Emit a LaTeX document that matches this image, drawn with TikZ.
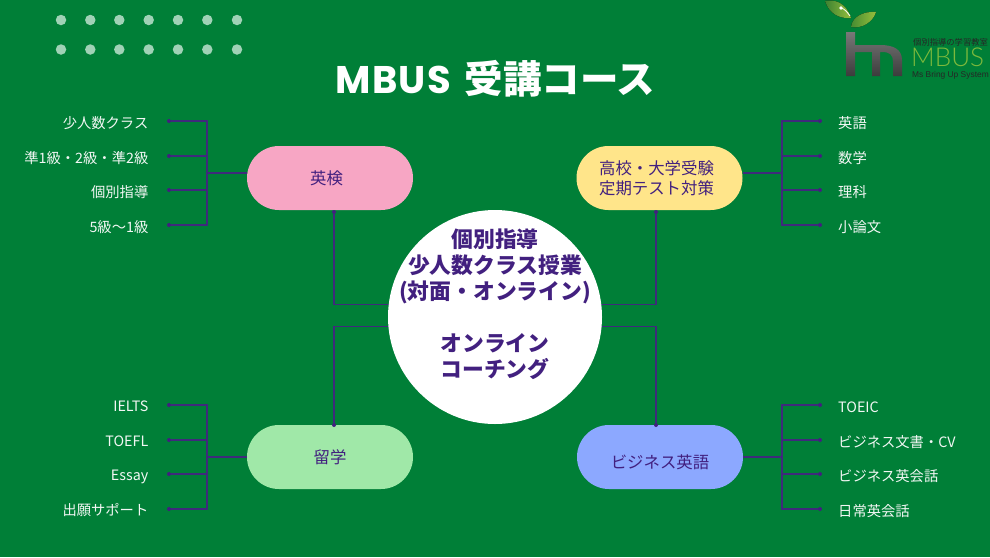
\documentclass[tikz,border=0pt]{standalone}
\usepackage{fontspec}
\setmainfont{Noto Sans CJK JP}
\newfontfamily\popfont[LetterSpace=3]{Poppins}
\newfontfamily\liberfont{Liberation Sans}
\newfontfamily\thinfont{Lato Light}
\usetikzlibrary{backgrounds}
\definecolor{bggreen}{HTML}{007F37}
\definecolor{ink}{HTML}{42207F}
\definecolor{linec}{HTML}{3F2A7C}
\definecolor{dotc}{HTML}{A0D2B6}
\definecolor{txtc}{HTML}{F2F7F4}
\definecolor{pinkc}{HTML}{F7A6C4}
\definecolor{yellowc}{HTML}{FFE58A}
\definecolor{mintc}{HTML}{A0E8A8}
\definecolor{bluec}{HTML}{8CA8FF}
\tikzset{
  pill/.style={rounded corners=32pt,minimum width=166pt,minimum height=64pt,inner sep=0pt,text=ink,font=\fontsize{16.4}{20}\selectfont},
  lab/.style={text=txtc,inner sep=0pt,text height=12pt,text depth=2pt,font=\fontsize{14.3}{16}\selectfont},
  labl/.style={lab,anchor=east},
  labr/.style={lab,anchor=west},
  pt/.style={circle,fill=ink,inner sep=0pt,minimum size=4pt},
  conn/.style={draw=linec,line width=1.1pt},
  deco/.style={circle,fill=dotc,inner sep=0pt,minimum size=10.5pt}
}
\begin{document}
\begin{tikzpicture}[x=1pt,y=-1pt]
\useasboundingbox (0,0) rectangle (990,557);
% decorative dots
\foreach \i/\x in {1/61,2/90.3,3/119.3,4/148.7,5/178,6/207.3,7/237}{
  \node[deco] (da\i) at (\x,20) {};
  \node[deco] (db\i) at (\x,49.5) {};
}
% title
\node[text=white,inner sep=0pt,font=\fontsize{38.5}{40}\selectfont\bfseries] (title) at (495.5,78.5) {{\popfont MBUS}\hspace{5pt} 受講コース};
% centre
\node[circle,fill=white,minimum size=214pt,inner sep=0pt] (hub) at (495,317) {};
\node[text=ink,align=center,inner sep=0pt,font=\fontsize{21.8}{26}\selectfont\bfseries] (hubtext) at (495,304.5) {個別指導\\少人数クラス授業\\(対面・オンライン)\\[26pt]オンライン\\コーチング};
% pills
\node[pill,fill=pinkc] (eiken) at (330,178) {\hspace*{-7pt}英検};
\node[pill,fill=yellowc,align=center] (juken) at (659.5,178) {\hspace*{-6pt}高校・大学受験\\\hspace*{-6pt}定期テスト対策};
\node[pill,fill=mintc] (ryugaku) at (330,457) {留学};
\node[pill,fill=bluec] (biz) at (660,457) {\raisebox{-11pt}[0pt][0pt]{ビジネス英語}};
% labels left top
\node[labl] (l1) at (148.5,123) {少人数クラス};
\node[labl] (l2) at (148.5,158) {準1級・2級・準2級};
\node[labl] (l3) at (148.5,192) {個別指導};
\node[labl] (l4) at (148.5,227) {5級〜1級};
% labels left bottom
\node[labl] (m1) at (148.5,406.5) {IELTS};
\node[labl] (m2) at (148.5,441) {TOEFL};
\node[labl] (m3) at (148.5,475.5) {Essay};
\node[labl] (m4) at (148.5,510) {出願サポート};
% labels right top
\node[labr] (r1) at (838,123) {英語};
\node[labr] (r2) at (838,158) {数学};
\node[labr] (r3) at (838,192) {理科};
\node[labr] (r4) at (838,227) {小論文};
% labels right bottom
\node[labr] (s1) at (838,407) {TOEIC};
\node[labr] (s2) at (838,442) {ビジネス文書・CV};
\node[labr] (s3) at (838,476) {ビジネス英会話};
\node[labr] (s4) at (838,511) {日常英会話};
% end points
\foreach \n/\x/\y in {pl1/169/121,pl2/169/156,pl3/169/190,pl4/169/225,
  pm1/169/405,pm2/169/440,pm3/169/474,pm4/169/509,
  pr1/820/121,pr2/820/156,pr3/820/190,pr4/820/225,
  ps1/820/405,ps2/820/440,ps3/820/474,ps4/820/509,
  pa/334/212,pb/656/212,pc/334/425,pd/656/425}{
  \node[pt] (\n) at (\x,\y) {};
}
\coordinate (jl1) at (207,173);
\coordinate (jl2) at (207,457);
\coordinate (jr1) at (782,173);
\coordinate (jr2) at (782,457);
\coordinate (ha) at (420,304.5);
\coordinate (hb) at (570,304.5);
\coordinate (hc) at (420,326.5);
\coordinate (hd) at (570,326.5);
\begin{scope}[on background layer]
\fill[bggreen] (0,0) rectangle (990,557);
\draw[conn] (pl1) -| (pl4 -| jl1) -- (pl4);
\draw[conn] (pl2) -- (pl2 -| jl1);
\draw[conn] (pl3) -- (pl3 -| jl1);
\draw[conn] (jl1) -- (jl1 -| eiken.west);
\draw[conn] (pm1) -| (pm4 -| jl2) -- (pm4);
\draw[conn] (pm2) -- (pm2 -| jl2);
\draw[conn] (pm3) -- (pm3 -| jl2);
\draw[conn] (jl2) -- (jl2 -| ryugaku.west);
\draw[conn] (pr1) -| (pr4 -| jr1) -- (pr4);
\draw[conn] (pr2) -- (pr2 -| jr1);
\draw[conn] (pr3) -- (pr3 -| jr1);
\draw[conn] (jr1) -- (jr1 -| juken.east);
\draw[conn] (ps1) -| (ps4 -| jr2) -- (ps4);
\draw[conn] (ps2) -- (ps2 -| jr2);
\draw[conn] (ps3) -- (ps3 -| jr2);
\draw[conn] (jr2) -- (jr2 -| biz.east);
\draw[conn] (pa) |- (ha);
\draw[conn] (pb) |- (hb);
\draw[conn] (pc) |- (hc);
\draw[conn] (pd) |- (hd);
\end{scope}
% logo
\fill[left color={rgb,255:red,60;green,130;blue,50},right color={rgb,255:red,150;green,190;blue,60}]
  (825,1) .. controls (834,-1) and (846,2) .. (851,18) .. controls (840,19) and (829,14) .. (825,1) -- cycle;
\fill[left color={rgb,255:red,70;green,140;blue,50},right color={rgb,255:red,150;green,190;blue,60}]
  (876,12) .. controls (873,22) and (862,29) .. (851,27) .. controls (852,17) and (863,11) .. (876,12) -- cycle;
\draw[white,line width=0.8pt] (841,8) .. controls (845,9) and (847,12) .. (850,16);
\fill[white] (841,8) circle (1.8);
\shade[top color={rgb,255:red,120;green,120;blue,120},bottom color={rgb,255:red,60;green,60;blue,60}]
  (846,32) -- (855,32) -- (855,45) -- (880,45) .. controls (893,45) and (902,49) .. (902,60) -- (902,76) -- (893,76) -- (893,62)
  .. controls (893,55) and (890,52) .. (882,52) -- (880,52) -- (880,76) -- (872,76) -- (872,52) -- (855,52) -- (855,76) -- (846,76) -- cycle;
\node[anchor=west,inner sep=0pt,text=black!85,font=\fontsize{8.3}{9}\selectfont,text height=7pt,text depth=0pt] (logoa) at (913,42) {個別指導の学習教室};
\node[anchor=west,inner sep=0pt,text={rgb,255:red,125;green,185;blue,60},font=\fontsize{26}{27}\selectfont\thinfont,text height=19pt,text depth=0pt] (logob) at (911,57) {MBUS};
\node[anchor=west,inner sep=0pt,text=black!85,font=\fontsize{8.4}{9}\selectfont\liberfont,text height=6pt,text depth=0pt] (logoc) at (912,74) {Ms Bring Up System};
\end{tikzpicture}
\end{document}
